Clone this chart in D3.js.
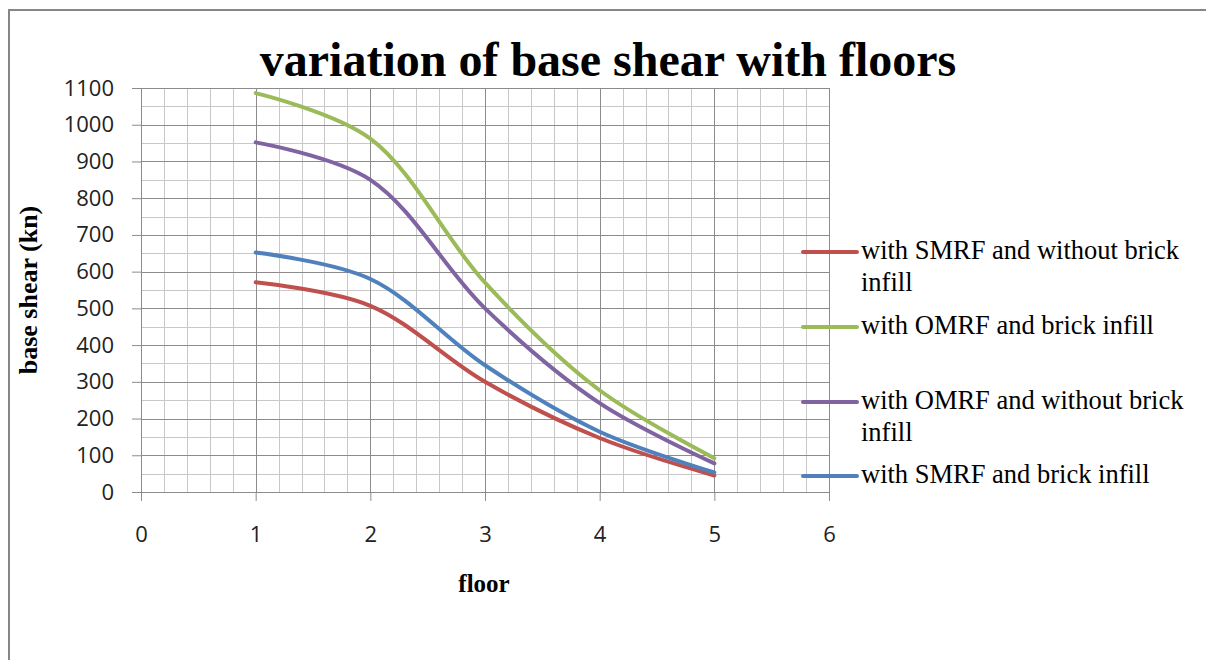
<!DOCTYPE html>
<html>
<head>
<meta charset="utf-8">
<script src="https://cdn.jsdelivr.net/npm/d3@7"></script>
<style>
  body { margin: 0; background: #fff; }
  svg { display: block; }
</style>
</head>
<body>
<script>
// values
var floors = [1, 2, 3, 4, 5];
var seriesNames = [
  "with SMRF and without brick infill",
  "with OMRF and brick infill",
  "with OMRF and without brick infill",
  "with SMRF and brick infill"
];
var smrfNoBrick = [571, 507, 300, 147, 45];
var omrfBrick   = [1086, 962, 570, 277, 92];
var omrfNoBrick = [952, 850, 500, 242, 78];
var smrfBrick   = [652, 580, 345, 164, 53];
var xTicks = [0, 1, 2, 3, 4, 5, 6];
var yTicks = [0, 100, 200, 300, 400, 500, 600, 700, 800, 900, 1000, 1100];

var colors = ["#c0504d", "#9bbb59", "#8064a2", "#4f81bd"];
var allValues = [smrfNoBrick, omrfBrick, omrfNoBrick, smrfBrick];

var W = 1206, H = 660;
var margin = {top: 88, left: 141, right: 377, bottom: 168};
var width = W - margin.left - margin.right,
    height = H - margin.top - margin.bottom;

var svg = d3.select("body").append("svg")
    .attr("width", W)
    .attr("height", H);

// chart frame
svg.append("rect")
    .attr("x", 9).attr("y", 10)
    .attr("width", W).attr("height", H)
    .attr("fill", "#fff")
    .attr("stroke", "#868686")
    .attr("stroke-width", 2);

var x = d3.scaleLinear().domain([0, 6]).range([0, width]);
var y = d3.scaleLinear().domain([0, 1100]).range([height, 0]);

var g = svg.append("g")
    .attr("transform", "translate(" + margin.left + "," + margin.top + ")");

// minor grid
var minorX = d3.range(0, 6.001, 0.2), minorY = d3.range(0, 1100.1, 50);
g.append("g").selectAll("line").data(minorX).enter().append("line")
    .attr("x1", function(d) { return Math.round(x(d)) + 0.5; })
    .attr("x2", function(d) { return Math.round(x(d)) + 0.5; })
    .attr("y1", 0).attr("y2", height)
    .attr("stroke", "#c8c8c8");
g.append("g").selectAll("line").data(minorY).enter().append("line")
    .attr("y1", function(d) { return Math.round(y(d)) + 0.5; })
    .attr("y2", function(d) { return Math.round(y(d)) + 0.5; })
    .attr("x1", 0).attr("x2", width)
    .attr("stroke", "#c8c8c8");

// major grid
g.append("g").selectAll("line").data(xTicks).enter().append("line")
    .attr("x1", function(d) { return Math.round(x(d)) + 0.5; })
    .attr("x2", function(d) { return Math.round(x(d)) + 0.5; })
    .attr("y1", 0).attr("y2", height)
    .attr("stroke", "#8c8c8c");
g.append("g").selectAll("line").data(yTicks).enter().append("line")
    .attr("y1", function(d) { return Math.round(y(d)) + 0.5; })
    .attr("y2", function(d) { return Math.round(y(d)) + 0.5; })
    .attr("x1", 0).attr("x2", width)
    .attr("stroke", "#8c8c8c");

// axes
var xAxis = g.append("g")
    .attr("transform", "translate(0," + height + ")")
    .call(d3.axisBottom(x).tickValues(xTicks).tickSize(9).tickPadding(25).tickFormat(d3.format("d")));
var yAxis = g.append("g")
    .call(d3.axisLeft(y).tickValues(yTicks).tickSize(9).tickPadding(18).tickFormat(d3.format("d")));
[xAxis, yAxis].forEach(function(a) {
  a.select(".domain").attr("stroke", "#8c8c8c");
  a.selectAll(".tick line").attr("stroke", "#8c8c8c");
  a.selectAll("text")
    .attr("fill", "#222")
    .style("font-family", "'Open Sans', 'Liberation Sans', sans-serif")
    .style("font-size", "22px");
});

// lines
var line = d3.line()
    .x(function(d, i) { return x(floors[i]); })
    .y(function(d) { return y(d); })
    .curve(d3.curveCatmullRom.alpha(0.5));

g.selectAll(".series").data(allValues).enter().append("path")
    .attr("class", "series")
    .attr("d", line)
    .attr("fill", "none")
    .attr("stroke", function(d, i) { return colors[i]; })
    .attr("stroke-width", 4)
    .attr("stroke-linecap", "round");

// title and axis labels
var serif = "'Liberation Serif', 'Times New Roman', serif";
svg.append("text")
    .attr("x", 608).attr("y", 76)
    .attr("text-anchor", "middle")
    .style("font-family", serif)
    .style("font-weight", "bold")
    .style("font-size", "48px")
    .text("variation of base shear with floors");

svg.append("text")
    .attr("x", 484).attr("y", 592)
    .attr("text-anchor", "middle")
    .style("font-family", serif)
    .style("font-weight", "bold")
    .style("font-size", "25px")
    .text("floor");

svg.append("text")
    .attr("transform", "translate(37,290) rotate(-90)")
    .attr("text-anchor", "middle")
    .style("font-family", serif)
    .style("font-weight", "bold")
    .style("font-size", "26px")
    .text("base shear (kn)");

// legend
var legendY = [252, 327, 402, 476];
var leg = svg.append("g");
seriesNames.forEach(function(name, i) {
  leg.append("line")
      .attr("x1", 803).attr("x2", 857)
      .attr("y1", legendY[i]).attr("y2", legendY[i])
      .attr("stroke", colors[i])
      .attr("stroke-width", 4)
      .attr("stroke-linecap", "round");
  var t = leg.append("text")
      .attr("x", 861).attr("y", legendY[i] + 7)
      .style("font-family", serif)
      .style("font-size", "26.5px")
      .attr("fill", "#000");
  // wrap text like Excel does
  var words = name.split(" "), cur = [];
  var ts = t.append("tspan").attr("x", 861).attr("dy", 0);
  words.forEach(function(w) {
    cur.push(w);
    ts.text(cur.join(" "));
    if (ts.node().getComputedTextLength() > 330 && cur.length > 1) {
      cur.pop();
      ts.text(cur.join(" "));
      cur = [w];
      ts = t.append("tspan").attr("x", 861).attr("dy", 32).text(w);
    }
  });
});
</script>
</body>
</html>
